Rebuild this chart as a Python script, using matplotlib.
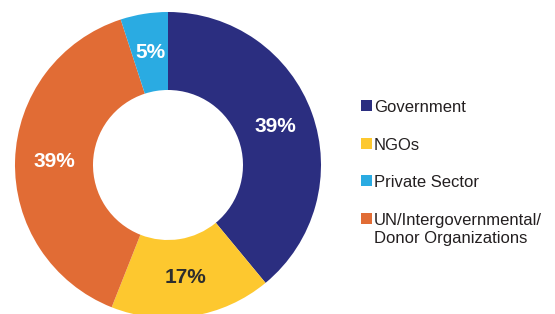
import matplotlib.pyplot as plt
from matplotlib.patches import Rectangle

# donut data, in clockwise order from the top
sectors = ['Government', 'NGOs', 'UN/Intergovernmental/\nDonor Organizations', 'Private Sector']
shares = [39, 17, 39, 5]
colors = ['#2b2e80', '#fdc82f', '#e16c35', '#2aabe2']

# legend order
legend_labels = ['Government', 'NGOs', 'Private Sector', 'UN/Intergovernmental/\nDonor Organizations']
legend_colors = ['#2b2e80', '#fdc82f', '#2aabe2', '#e16c35']

W, H = 555, 314
plt.rcParams['font.family'] = ['Liberation Sans', 'DejaVu Sans']

fig = plt.figure(figsize=(W / 100, H / 100), dpi=100)
ax = fig.add_axes([0, 0, 1, 1])

cx, cy = 168, 165  # pixel coords, y from top
R, r = 153, 75

wedges, texts, autotexts = ax.pie(
    shares, colors=colors, startangle=90, counterclock=False,
    radius=R, center=(cx, H - cy), wedgeprops=dict(width=R - r, linewidth=0),
    autopct=lambda p: f'{p:.0f}%', pctdistance=0.745,
    textprops=dict(fontsize=15, fontweight='bold', color='white'))
autotexts[1].set_color('#2d2d2d')

ax.set_xlim(0, W)
ax.set_ylim(0, H)
ax.set_aspect('equal')
ax.axis('off')

# legend drawn by hand
y0 = 112  # baseline of first entry
for i, (lab, col) in enumerate(zip(legend_labels, legend_colors)):
    yb = y0 + i * 37.5
    ax.add_patch(Rectangle((361, H - yb + 1), 11, 11, facecolor=col, edgecolor='none'))
    lines = lab.split('\n')
    for j, line in enumerate(lines):
        ax.text(374, H - (yb + j * 18), line, fontsize=12, color='#231f20',
                va='baseline', ha='left')

fig.savefig('out.png', dpi=100)
